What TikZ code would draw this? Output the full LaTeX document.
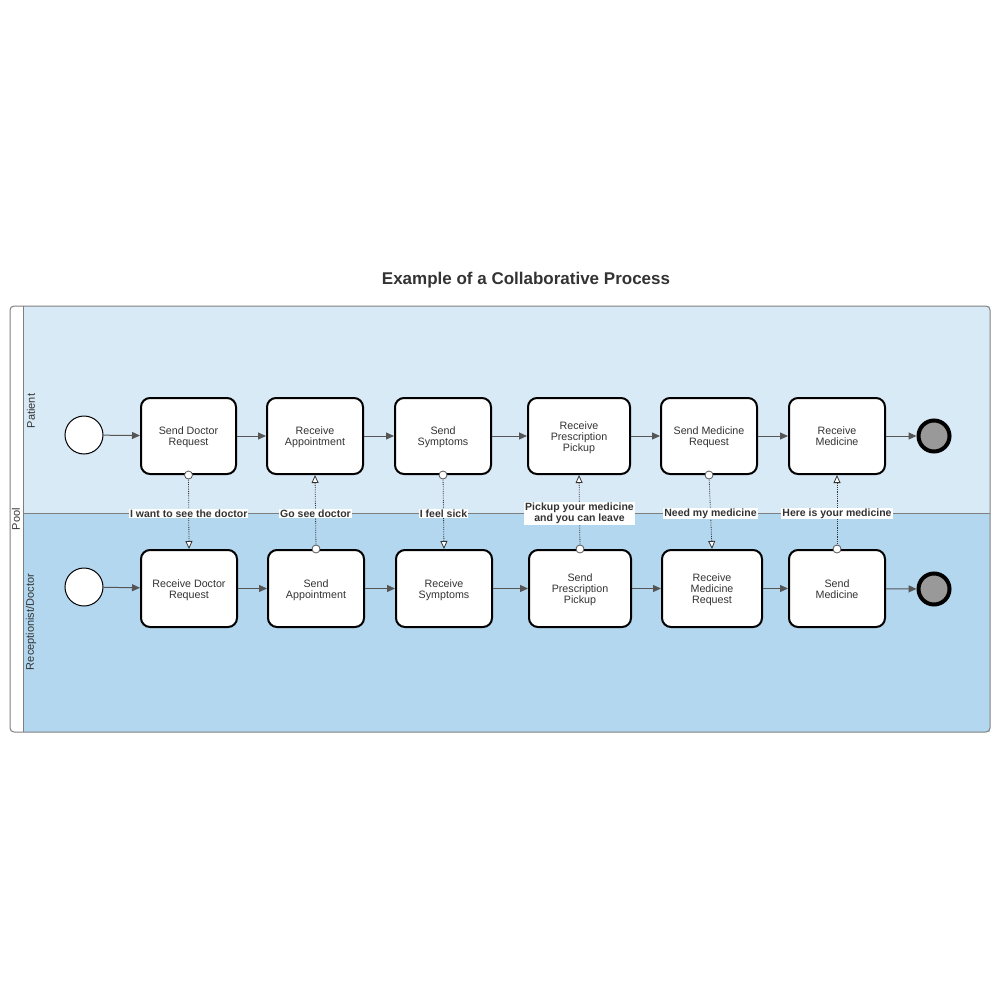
\documentclass[tikz,border=0pt]{standalone}
\usepackage{fontspec}
\setmainfont{Liberation Sans}
\usetikzlibrary{arrows.meta}
\definecolor{laneA}{HTML}{D9EAF7}
\definecolor{laneB}{HTML}{B3D7EF}
\definecolor{flowc}{HTML}{555555}
\definecolor{poolc}{HTML}{7F7F7F}
\definecolor{endfill}{HTML}{999999}
\definecolor{txtc}{HTML}{333333}
\newcommand\tasktext[1]{\raisebox{-2pt}[\height][\depth]{\begin{tabular}{@{}c@{}}#1\end{tabular}}}
\tikzset{
  task/.style={draw=black, line width=2pt, rounded corners=9pt, fill=white, align=center,
    font=\fontsize{10.7}{11}\selectfont, text=txtc, inner sep=2pt},
  startev/.style={circle, draw=black, line width=1pt, fill=white, minimum size=38pt, inner sep=0pt},
  endev/.style={circle, draw=black, line width=4pt, fill=endfill, minimum size=31pt, inner sep=0pt},
  seqflow/.style={draw=flowc, line width=1pt, -{Triangle[length=8pt,width=7pt]}},
  msgflow/.style={draw=black!80, line width=0.8pt, densely dotted, -{Triangle[open,length=8pt,width=7pt,fill=white]}},
  msgstart/.style={circle, draw=flowc, fill=white, line width=0.8pt, minimum size=8pt, inner sep=0pt},
  msglabel/.style={fill=white, inner sep=1pt, align=center, font=\bfseries\fontsize{10.5}{11}\selectfont, text=txtc},
  lanelabel/.style={rotate=90, font=\fontsize{11}{12}\selectfont, text=txtc},
}
\begin{document}
\begin{tikzpicture}[x=1pt, y=-1pt]
\useasboundingbox (0,0) rectangle (1000,1000);
% pool
\fill[laneA] (23,306) rectangle (990,513);
\fill[laneB] (23,513) rectangle (990,732);
\draw[poolc, line width=1pt, rounded corners=4pt] (10,306) rectangle (990,732);
\draw[poolc, line width=1pt] (23,306) -- (23,732);
\draw[poolc, line width=1pt] (23,513) -- (990,513);
\node[lanelabel] (pool) at (16,519) {Pool};
\node[lanelabel] (patient) at (31,411) {Patient};
\node[lanelabel] (recep) at (31,622) {Receptionist/Doctor};
% title
\node[font=\bfseries\fontsize{17}{19}\selectfont, text=txtc] (title) at (526,280) {Example of a Collaborative Process};
% top row
\node[startev] (s1) at (84,435) {};
\node[task, minimum width=95pt, minimum height=76pt] (t1) at (188.5,436) {\tasktext{Send Doctor\\Request}};
\node[task, minimum width=96pt, minimum height=76pt] (t2) at (315,436) {\tasktext{Receive\\Appointment}};
\node[task, minimum width=96pt, minimum height=76pt] (t3) at (443,436) {\tasktext{Send\\Symptoms}};
\node[task, minimum width=102pt, minimum height=76pt] (t4) at (579,436) {\tasktext{Receive\\Prescription\\Pickup}};
\node[task, minimum width=96pt, minimum height=76pt] (t5) at (709,436) {\tasktext{Send Medicine\\Request}};
\node[task, minimum width=96pt, minimum height=76pt] (t6) at (837,436) {\tasktext{Receive\\Medicine}};
\node[endev] (e1) at (934,436) {};
% bottom row
\node[startev] (s2) at (84,587) {};
\node[task, minimum width=96pt, minimum height=77pt] (b1) at (189,588.5) {\tasktext{Receive Doctor\\Request}};
\node[task, minimum width=96pt, minimum height=77pt] (b2) at (316,588.5) {\tasktext{Send\\Appointment}};
\node[task, minimum width=96pt, minimum height=77pt] (b3) at (444,588.5) {\tasktext{Receive\\Symptoms}};
\node[task, minimum width=102pt, minimum height=77pt] (b4) at (580,588.5) {\tasktext{Send\\Prescription\\Pickup}};
\node[task, minimum width=100pt, minimum height=77pt] (b5) at (712,588.5) {\tasktext{Receive\\Medicine\\Request}};
\node[task, minimum width=96pt, minimum height=77pt] (b6) at (837,588.5) {\tasktext{Send\\Medicine}};
\node[endev] (e2) at (934,589) {};
% sequence flows
\foreach \a/\b in {s1/t1,t1/t2,t2/t3,t3/t4,t4/t5,t5/t6,t6/e1,s2/b1,b1/b2,b2/b3,b3/b4,b4/b5,b5/b6,b6/e2}
  \draw[seqflow] (\a) -- (\b);
% message flows
\draw[msgflow] (t1.south) -- node[msglabel, yshift=-1.5pt] {I want to see the doctor} (b1.north);
\node[msgstart] (m1) at (t1.south) {};
\draw[msgflow] (b2.north) -- node[msglabel, yshift=-1.5pt] {Go see doctor} (t2.south);
\node[msgstart] (m2) at (b2.north) {};
\draw[msgflow] (t3.south) -- node[msglabel, yshift=-1.5pt] {I feel sick} (b3.north);
\node[msgstart] (m3) at (t3.south) {};
\draw[msgflow] (b4.north) -- node[msglabel, yshift=-1.5pt] {Pickup your medicine\\and you can leave} (t4.south);
\node[msgstart] (m4) at (b4.north) {};
\draw[msgflow] (t5.south) -- node[msglabel, yshift=-1.5pt] {Need my medicine} (b5.north);
\node[msgstart] (m5) at (t5.south) {};
\draw[msgflow] (b6.north) -- node[msglabel, yshift=-1.5pt] {Here is your medicine} (t6.south);
\node[msgstart] (m6) at (b6.north) {};
\end{tikzpicture}
\end{document}
